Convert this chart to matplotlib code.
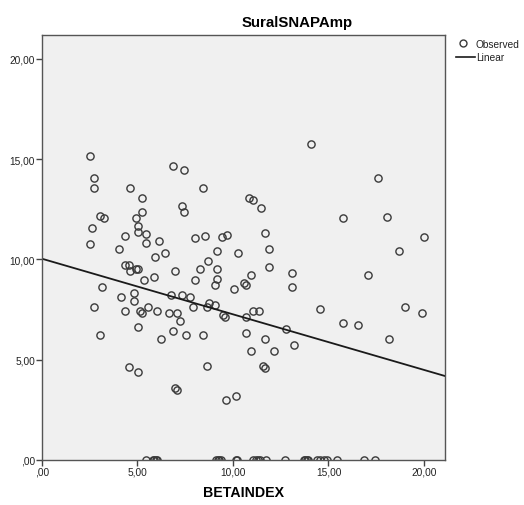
import matplotlib
matplotlib.use("Agg")
import matplotlib.pyplot as plt
from matplotlib.lines import Line2D
import numpy as np

plt.rcParams['font.family'] = ['Liberation Sans', 'DejaVu Sans']

# Observed (BETAINDEX, SuralSNAPAmp)
beta_index = [
    2.53, 2.72, 2.72, 4.62, 5.24, 6.84, 7.43, 8.45, 3.04, 3.25,
    5.24, 4.94, 7.35, 7.43, 2.63, 5.04, 5.04, 4.33, 5.44, 5.44,
    6.14, 8.03, 8.55, 2.53, 4.03, 6.44, 5.93, 8.69, 4.33, 4.53,
    4.62, 4.94, 5.04, 5.84, 6.94, 8.25, 5.34, 8.03, 3.12, 4.14,
    4.83, 4.83, 6.73, 7.35, 7.76, 7.92, 8.64, 8.74, 2.72, 4.33,
    5.15, 5.24, 5.53, 6.04, 6.65, 7.05, 7.24, 5.04, 6.84, 3.02,
    6.23, 7.54, 8.45, 4.53, 5.04, 8.64, 6.94, 7.05, 14.06, 10.84,
    11.06, 11.45, 15.76, 9.44, 9.66, 11.65, 9.16, 10.26, 11.86, 9.16,
    11.86, 10.96, 13.07, 9.16, 9.06, 10.05, 10.56, 10.66, 13.07, 9.06,
    9.46, 9.56, 10.66, 11.06, 11.36, 10.66, 11.65, 10.96, 12.16, 12.77,
    13.17, 14.57, 15.76, 16.56, 11.57, 11.68, 9.65, 10.16, 17.57, 18.08,
    19.98, 18.69, 17.08, 18.98, 19.89, 18.18,
    # zero-amplitude cases
    5.42, 5.81, 5.88, 5.95, 6.03, 9.12, 9.20, 9.28, 9.36, 10.14,
    10.21, 11.05, 11.18, 11.29, 11.39, 11.74, 12.72, 13.70, 13.78, 13.86,
    13.94, 14.40, 14.57, 14.74, 14.92, 15.44, 16.87, 17.43,
]
sural_amp = [
    15.14, 14.04, 13.55, 13.55, 13.05, 14.66, 14.46, 13.55, 12.15, 12.05,
    12.35, 12.05, 12.65, 12.35, 11.55, 11.65, 11.35, 11.15, 11.25, 10.83,
    10.93, 11.05, 11.15, 10.75, 10.53, 10.33, 10.13, 9.90, 9.74, 9.74,
    9.42, 9.54, 9.54, 9.13, 9.44, 9.54, 8.95, 8.95, 8.62, 8.12,
    8.32, 7.92, 8.22, 8.22, 8.12, 7.62, 7.62, 7.82, 7.62, 7.42,
    7.42, 7.32, 7.62, 7.42, 7.32, 7.32, 6.92, 6.61, 6.41, 6.21,
    6.01, 6.21, 6.21, 4.61, 4.41, 4.69, 3.61, 3.51, 15.76, 13.05,
    12.95, 12.55, 12.05, 11.13, 11.23, 11.33, 10.43, 10.33, 10.53, 9.54,
    9.64, 9.24, 9.34, 9.02, 8.72, 8.52, 8.82, 8.72, 8.62, 7.72,
    7.22, 7.12, 7.12, 7.42, 7.42, 6.31, 6.01, 5.41, 5.41, 6.51,
    5.71, 7.52, 6.82, 6.71, 4.69, 4.59, 3.00, 3.20, 14.04, 12.13,
    11.13, 10.43, 9.24, 7.62, 7.31, 6.01,
    0, 0, 0, 0, 0, 0, 0, 0, 0, 0,
    0, 0, 0, 0, 0, 0, 0, 0, 0, 0,
    0, 0, 0, 0, 0, 0, 0, 0,
]

# Linear fit
fit_intercept = 10.03
fit_slope = -0.277

x_ticks = [0, 5, 10, 15, 20]
x_tick_labels = [",00", "5,00", "10,00", "15,00", "20,00"]
y_ticks = [0, 5, 10, 15, 20]
y_tick_labels = [",00", "5,00", "10,00", "15,00", "20,00"]

W, H = 524, 506
fig = plt.figure(figsize=(W / 100, H / 100), dpi=100)
ax = fig.add_axes([42 / W, 1 - 461 / H, (445 - 42) / W, (461 - 36) / H])
ax.set_facecolor("#f0f0f0")

xmax, ymax = 21.1, 21.18
ax.set_xlim(0, xmax)
ax.set_ylim(0, ymax)

ax.plot(beta_index, sural_amp, linestyle="none", marker="o", markersize=5.2,
        markerfacecolor="none", markeredgecolor="#3a3a3a", markeredgewidth=1.0)

xl = np.array([0, xmax])
ax.plot(xl, fit_intercept + fit_slope * xl, color="#1a1a1a", linewidth=1.3)

ax.set_xticks(x_ticks)
ax.set_xticklabels(x_tick_labels)
ax.set_yticks(y_ticks)
ax.set_yticklabels(y_tick_labels)
ax.tick_params(direction="out", length=4, width=1, color="#444444",
               labelsize=7.3, labelcolor="#222222", pad=1)
for s in ax.spines.values():
    s.set_color("#555555")
    s.set_linewidth(1.0)

fig.text(243 / W, 1 - 493 / H, "BETAINDEX", fontsize=10.2, fontweight="bold",
         ha="center", va="center")

fig.text(297 / W, 1 - 23 / H, "SuralSNAPAmp", fontsize=10.8, fontweight="bold",
         ha="center", va="center")

# Legend
fig.add_artist(Line2D([463 / W], [1 - 44 / H], marker="o", markersize=5,
                      markerfacecolor="none", markeredgecolor="#3a3a3a",
                      markeredgewidth=1.0, linestyle="none"))
fig.text(476 / W, 1 - 45 / H, "Observed", fontsize=7.3, va="center", color="#222222")
fig.add_artist(Line2D([456 / W, 475 / W], [1 - 58 / H, 1 - 58 / H],
                      color="#1a1a1a", linewidth=1.2))
fig.text(476 / W, 1 - 58 / H, "Linear", fontsize=7.3, va="center", color="#222222")

fig.savefig("out.png", dpi=100, facecolor="white")
